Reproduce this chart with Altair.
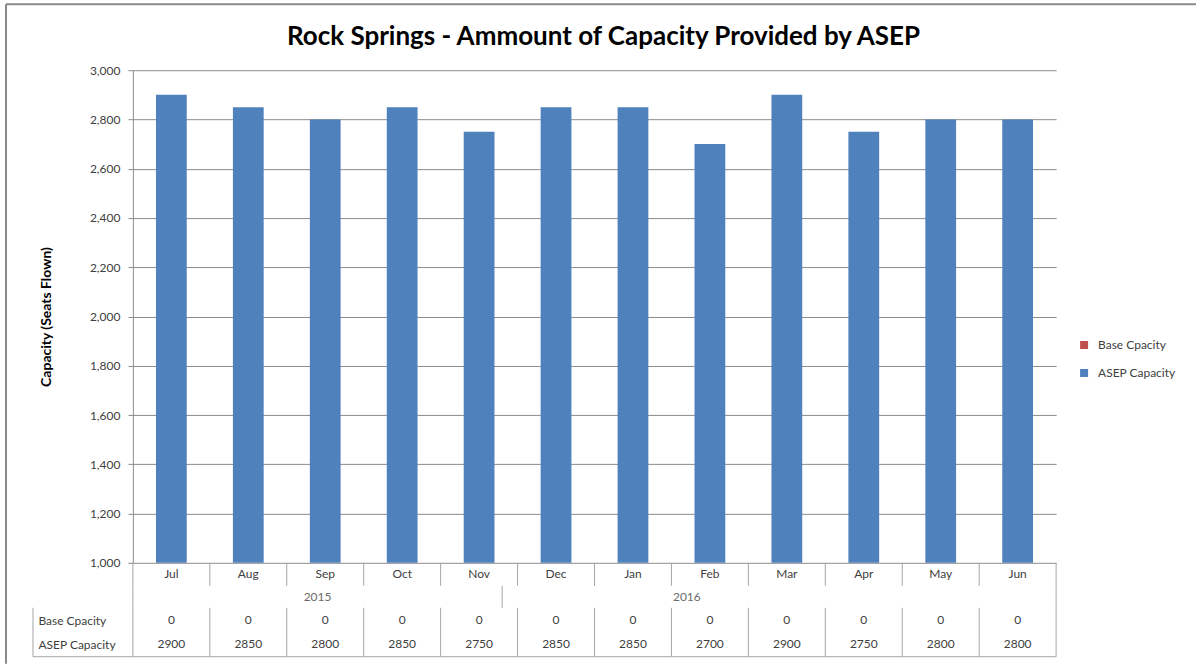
import altair as alt
import pandas as pd

months = ["Jul", "Aug", "Sep", "Oct", "Nov", "Dec", "Jan", "Feb", "Mar", "Apr", "May", "Jun"]
years = ["2015", "2016"]
year_start_months = ["Jul", "Jan"]
year_label_months = ["Oct", "Apr"]
base_capacity = [0, 0, 0, 0, 0, 0, 0, 0, 0, 0, 0, 0]
asep_capacity = [2900, 2850, 2800, 2850, 2750, 2850, 2850, 2700, 2900, 2750, 2800, 2800]
series_names = ["Base Cpacity", "ASEP Capacity"]
series_colors = ["#C0504D", "#4F81BD"]
y_ticks = [1000, 1200, 1400, 1600, 1800, 2000, 2200, 2400, 2600, 2800, 3000]

FONT = "Lato"
W, H = 924, 493
H_MONTH, H_YEAR, H_DATA = 23, 22, 49
GRID = "#8C8C8C"
LINE = "#A6A6A6"
FRAME = "#8A8A8A"
TXT = "#404040"

bars_df = pd.DataFrame({
    "month": months * 2,
    "series": [series_names[0]] * 12 + [series_names[1]] * 12,
    "value": base_capacity + asep_capacity,
    "order": [0] * 12 + [1] * 12,
})

top = alt.Chart(bars_df, title=alt.TitleParams(
    "Rock Springs - Ammount of Capacity Provided by ASEP",
    font=FONT, fontSize=26, fontWeight="bold", color="#000000",
    anchor="middle", offset=14, dx=9)).mark_bar(clip=True).encode(
    x=alt.X("month:N", sort=months, axis=None,
            scale=alt.Scale(paddingInner=0.6, paddingOuter=0.3)),
    y=alt.Y("value:Q", stack="zero",
            scale=alt.Scale(domain=[1000, 3000], nice=False, zero=False),
            axis=alt.Axis(values=y_ticks, format=",.0f", title="Capacity (Seats Flown)",
                          titleFont=FONT, titleFontSize=14, titleFontWeight="bold",
                          titleColor="#000000", titlePadding=36,
                          labelFont=FONT, labelFontSize=12, labelColor=TXT, labelPadding=8,
                          tickSize=5, tickColor=GRID, domainColor=GRID,
                          grid=True, gridColor=GRID, gridWidth=1)),
    color=alt.Color("series:N", sort=series_names,
                    scale=alt.Scale(domain=series_names, range=series_colors),
                    legend=alt.Legend(title=None, orient="none", legendX=946, legendY=269,
                                      symbolType="square", symbolSize=64, symbolStrokeWidth=0,
                                      labelFont=FONT, labelFontSize=12, labelColor=TXT,
                                      labelOffset=8, rowPadding=16)),
    order=alt.Order("order:Q"),
).properties(width=W, height=H)

xs = alt.Scale(paddingInner=0, paddingOuter=0)
month_df = pd.DataFrame({"month": months})
right_df = pd.DataFrame({"month": [months[-1]]})


def separators(df, h):
    return alt.Chart(df).mark_rule(color=LINE, strokeWidth=1).encode(
        x=alt.X("month:N", sort=months, scale=xs, axis=None, bandPosition=0),
        y=alt.value(0), y2=alt.value(h))


def right_border(h):
    return alt.Chart(right_df).mark_rule(color=LINE, strokeWidth=1).encode(
        x=alt.X("month:N", sort=months, scale=xs, axis=None, bandPosition=1),
        y=alt.value(0), y2=alt.value(h))


# month row
month_text = alt.Chart(month_df).mark_text(font=FONT, fontSize=12, color=TXT).encode(
    x=alt.X("month:N", sort=months, scale=xs, axis=None),
    y=alt.value(H_MONTH / 2),
    text="month:N",
)
month_row = alt.layer(separators(month_df, H_MONTH), right_border(H_MONTH), month_text).properties(
    width=W, height=H_MONTH)

# year row
year_df = pd.DataFrame({"month": year_label_months, "year": years})
year_start_df = pd.DataFrame({"month": year_start_months})
year_text = alt.Chart(year_df).mark_text(font=FONT, fontSize=12, color="#6A6A6A").encode(
    x=alt.X("month:N", sort=months, scale=xs, axis=None, bandPosition=0),
    y=alt.value(H_YEAR / 2),
    text="year:N",
)
year_row = alt.layer(separators(year_start_df, H_YEAR), right_border(H_YEAR), year_text).properties(
    width=W, height=H_YEAR)

# data rows
tab_rows = []
for i, m in enumerate(months):
    tab_rows.append({"month": m, "row": series_names[0], "text": str(base_capacity[i])})
    tab_rows.append({"month": m, "row": series_names[1], "text": str(asep_capacity[i])})
tab_df = pd.DataFrame(tab_rows)

data_text = alt.Chart(tab_df).mark_text(font=FONT, fontSize=12, color=TXT).encode(
    x=alt.X("month:N", sort=months, scale=xs, axis=None),
    y=alt.Y("row:N", sort=series_names,
            scale=alt.Scale(paddingInner=0, paddingOuter=0),
            axis=alt.Axis(title=None, domain=False, ticks=False, labelAlign="left",
                          labelPadding=95, labelFont=FONT, labelFontSize=12, labelColor=TXT)),
    text="text:N",
)
edge_df = pd.DataFrame({"edge": ["box"]})
left_line = alt.Chart(edge_df).mark_rule(color=LINE, strokeWidth=1).encode(
    x=alt.value(-100), y=alt.value(0), y2=alt.value(H_DATA))
bottom_line = alt.Chart(edge_df).mark_rule(color=LINE, strokeWidth=1).encode(
    x=alt.value(-100), x2=alt.value(W), y=alt.value(H_DATA))

# outer frame of the whole chart (top and left edges), drawn from the last panel
FRAME_TOP = -(H + H_MONTH + H_YEAR + 66)
frame_top = alt.Chart(edge_df).mark_rule(color=FRAME, strokeWidth=2).encode(
    x=alt.value(-127), x2=alt.value(W + 140), y=alt.value(FRAME_TOP))
frame_left = alt.Chart(edge_df).mark_rule(color=FRAME, strokeWidth=2).encode(
    x=alt.value(-127), y=alt.value(FRAME_TOP), y2=alt.value(H_DATA + 7))

data_rows = alt.layer(separators(month_df, H_DATA), right_border(H_DATA), left_line, bottom_line,
                      frame_top, frame_left, data_text).properties(width=W, height=H_DATA)

chart = alt.vconcat(top, month_row, year_row, data_rows, spacing=0, bounds="flush").resolve_scale(
    x="independent").properties(
    padding={"left": 5, "top": 3, "right": 0, "bottom": 0},
    background="#FFFFFF",
).configure_view(stroke=None)

chart.save("out.html", embed_options={"renderer": "svg", "actions": False})
